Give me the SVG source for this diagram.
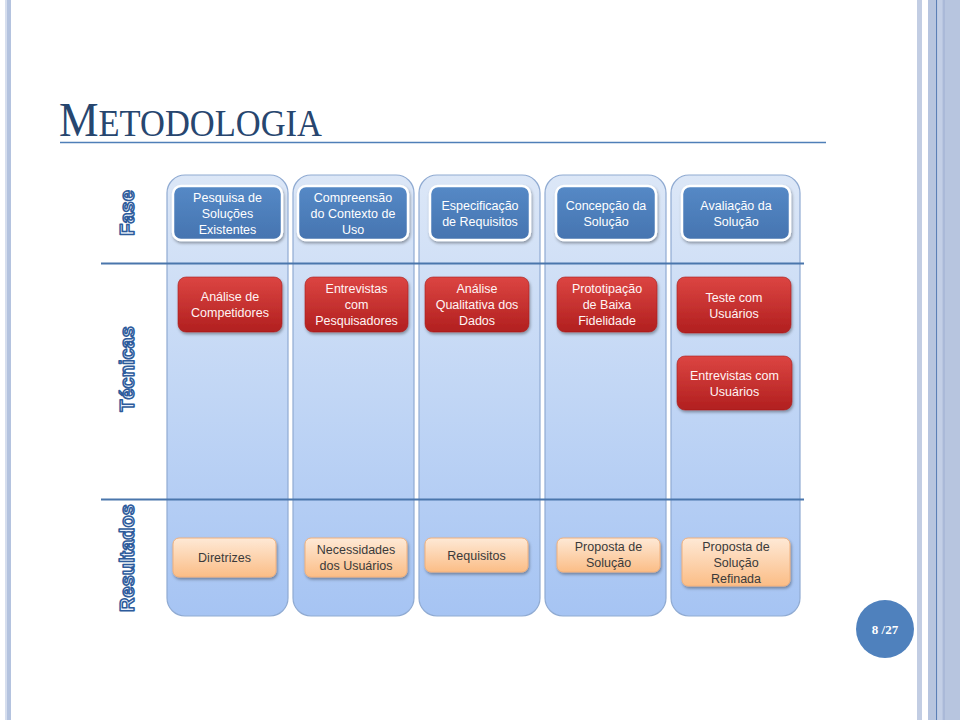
<svg xmlns="http://www.w3.org/2000/svg" width="960" height="720" viewBox="0 0 960 720">
  <defs>
    <linearGradient id="colFill" x1="0" y1="0" x2="0" y2="1">
      <stop offset="0" stop-color="#dce7f7"/>
      <stop offset="0.5" stop-color="#c1d6f5"/>
      <stop offset="1" stop-color="#a6c4f3"/>
    </linearGradient>
    <linearGradient id="blueFill" x1="0" y1="0" x2="0" y2="1">
      <stop offset="0" stop-color="#5589c6"/>
      <stop offset="1" stop-color="#4674b0"/>
    </linearGradient>
    <linearGradient id="redFill" x1="0" y1="0" x2="0" y2="1">
      <stop offset="0" stop-color="#dc4542"/>
      <stop offset="1" stop-color="#b11f1f"/>
    </linearGradient>
    <linearGradient id="orangeFill" x1="0" y1="0" x2="0" y2="1">
      <stop offset="0" stop-color="#fee9d6"/>
      <stop offset="1" stop-color="#fbbd86"/>
    </linearGradient>
    <filter id="shadow" x="-10%" y="-20%" width="125%" height="150%">
      <feDropShadow dx="1" dy="2" stdDeviation="1.6" flood-color="#000" flood-opacity="0.35"/>
    </filter>
  </defs>
  <style>
    .col { fill: url(#colFill); stroke: #90abd2; stroke-width: 1.2; }
    .phase { fill: url(#blueFill); stroke: #ffffff; stroke-width: 2.5; filter: url(#shadow); }
    .tech { fill: url(#redFill); stroke: #a82020; stroke-width: 0.6; filter: url(#shadow); }
    .result { fill: url(#orangeFill); stroke: #f0b07c; stroke-width: 1; filter: url(#shadow); }
    .lbl { font-family: "Liberation Sans", Arial, sans-serif; font-size: 12.5px; text-anchor: middle; }
    .lw { fill: #ffffff; }
    .lr { fill: #fff4f4; }
    .lo { fill: #3a3a3a; }
    .row { font-family: "Liberation Sans", Arial, sans-serif; font-weight: bold; font-size: 20px; text-anchor: middle; fill: #e8effa; stroke: #2d5b9b; stroke-width: 1.5; stroke-linejoin: round; }
    .sep { stroke: #4a76ac; stroke-width: 2; }
  </style>

  <!-- page frame -->
  <rect x="0" y="0" width="960" height="720" fill="#ffffff"/>
  <rect x="5" y="0" width="2" height="720" fill="#d6deee"/>
  <rect x="7" y="0" width="4" height="720" fill="#b4c3df"/>
  <rect x="917" y="0" width="5" height="720" fill="#c2cde3"/>
  <rect x="928" y="0" width="32" height="720" fill="#b7c5df"/>
  <rect x="936" y="0" width="1.2" height="720" fill="#5b7fb6"/>
  <rect x="937.2" y="0" width="5.5" height="720" fill="#c3cfe6"/>
  <rect x="942.7" y="0" width="2.3" height="720" fill="#aab9d8"/>

  <!-- title -->
  <g id="title">
    <text x="59" y="136" font-family="'Liberation Serif', 'DejaVu Serif', serif" fill="#27466f" textLength="263" lengthAdjust="spacingAndGlyphs"><tspan font-size="49">M</tspan><tspan font-size="38">ETODOLOGIA</tspan></text>
    <line x1="60" y1="142.5" x2="826" y2="142.5" stroke="#4f7fb8" stroke-width="1.4"/>
  </g>

  <!-- columns -->
  <g id="columns">
    <rect class="col" x="167" y="175" width="121" height="441" rx="18"/>
    <rect class="col" x="293" y="175" width="121" height="441" rx="18"/>
    <rect class="col" x="419" y="175" width="121" height="441" rx="18"/>
    <rect class="col" x="545" y="175" width="121" height="441" rx="18"/>
    <rect class="col" x="671" y="175" width="129" height="441" rx="18"/>
  </g>

  <!-- row separators -->
  <g id="connectors">
    <line class="sep" x1="101" y1="263.5" x2="804" y2="263.5"/>
    <line class="sep" x1="101" y1="499.5" x2="804" y2="499.5"/>
  </g>

  <!-- row labels -->
  <g id="row-fase">
    <text class="row" transform="translate(127,213) rotate(-90)" y="7">Fase</text>
  </g>
  <g id="row-tecnicas">
    <text class="row" transform="translate(127,369) rotate(-90)" y="7">Técnicas</text>
  </g>
  <g id="row-resultados">
    <text class="row" transform="translate(127,558) rotate(-90)" y="7">Resultados</text>
  </g>

  <!-- phases -->
  <g id="fase-pesquisa">
    <rect class="phase" x="173" y="186" width="109" height="54" rx="8"/>
    <text class="lbl lw"><tspan x="227.5" y="202">Pesquisa de</tspan><tspan x="227.5" y="218">Soluções</tspan><tspan x="227.5" y="234">Existentes</tspan></text>
  </g>
  <g id="fase-compreensao">
    <rect class="phase" x="298" y="186" width="110" height="54" rx="8"/>
    <text class="lbl lw"><tspan x="353" y="202">Compreensão</tspan><tspan x="353" y="218">do Contexto de</tspan><tspan x="353" y="234">Uso</tspan></text>
  </g>
  <g id="fase-especificacao">
    <rect class="phase" x="430" y="186" width="100" height="54" rx="8"/>
    <text class="lbl lw"><tspan x="480" y="209.5">Especificação</tspan><tspan x="480" y="225.5">de Requisitos</tspan></text>
  </g>
  <g id="fase-concepcao">
    <rect class="phase" x="556" y="186" width="100" height="54" rx="8"/>
    <text class="lbl lw"><tspan x="606" y="209.5">Concepção da</tspan><tspan x="606" y="225.5">Solução</tspan></text>
  </g>
  <g id="fase-avaliacao">
    <rect class="phase" x="682" y="186" width="108" height="54" rx="8"/>
    <text class="lbl lw"><tspan x="736" y="209.5">Avaliação da</tspan><tspan x="736" y="225.5">Solução</tspan></text>
  </g>

  <!-- techniques -->
  <g id="tec-competidores">
    <rect class="tech" x="178" y="277" width="104" height="55" rx="8"/>
    <text class="lbl lr"><tspan x="230" y="301">Análise de</tspan><tspan x="230" y="317">Competidores</tspan></text>
  </g>
  <g id="tec-entrevistas-pesq">
    <rect class="tech" x="305" y="277" width="103" height="55" rx="8"/>
    <text class="lbl lr"><tspan x="356.5" y="293">Entrevistas</tspan><tspan x="356.5" y="309">com</tspan><tspan x="356.5" y="325">Pesquisadores</tspan></text>
  </g>
  <g id="tec-analise-qualitativa">
    <rect class="tech" x="425" y="277" width="104" height="55" rx="8"/>
    <text class="lbl lr"><tspan x="477" y="293">Análise</tspan><tspan x="477" y="309">Qualitativa dos</tspan><tspan x="477" y="325">Dados</tspan></text>
  </g>
  <g id="tec-prototipacao">
    <rect class="tech" x="557" y="277" width="100" height="55" rx="8"/>
    <text class="lbl lr"><tspan x="607" y="293">Prototipação</tspan><tspan x="607" y="309">de Baixa</tspan><tspan x="607" y="325">Fidelidade</tspan></text>
  </g>
  <g id="tec-teste-usuarios">
    <rect class="tech" x="677" y="277" width="114" height="56" rx="8"/>
    <text class="lbl lr"><tspan x="734" y="301.5">Teste com</tspan><tspan x="734" y="317.5">Usuários</tspan></text>
  </g>
  <g id="tec-entrevistas-usuarios">
    <rect class="tech" x="677" y="356" width="115" height="54" rx="8"/>
    <text class="lbl lr"><tspan x="734.5" y="380">Entrevistas com</tspan><tspan x="734.5" y="396">Usuários</tspan></text>
  </g>

  <!-- results -->
  <g id="res-diretrizes">
    <rect class="result" x="173" y="538" width="103" height="39" rx="6"/>
    <text class="lbl lo" x="224.5" y="562">Diretrizes</text>
  </g>
  <g id="res-necessidades">
    <rect class="result" x="305" y="538" width="102" height="39" rx="6"/>
    <text class="lbl lo"><tspan x="356" y="554">Necessidades</tspan><tspan x="356" y="570">dos Usuários</tspan></text>
  </g>
  <g id="res-requisitos">
    <rect class="result" x="425" y="538" width="103" height="34" rx="6"/>
    <text class="lbl lo" x="476.5" y="559.5">Requisitos</text>
  </g>
  <g id="res-proposta">
    <rect class="result" x="557" y="538" width="103" height="34" rx="6"/>
    <text class="lbl lo"><tspan x="608.5" y="550.5">Proposta de</tspan><tspan x="608.5" y="566.5">Solução</tspan></text>
  </g>
  <g id="res-proposta-refinada">
    <rect class="result" x="682" y="538" width="108" height="48" rx="6"/>
    <text class="lbl lo"><tspan x="736" y="550.5">Proposta de</tspan><tspan x="736" y="566.5">Solução</tspan><tspan x="736" y="582.5">Refinada</tspan></text>
  </g>

  <!-- page number -->
  <g id="page-number">
    <circle cx="885" cy="629" r="29" fill="#4f81bd"/>
    <text x="885" y="633.5" text-anchor="middle" font-family="'Liberation Serif', serif" font-weight="bold" font-size="13" fill="#ffffff">8 /27</text>
  </g>
</svg>
